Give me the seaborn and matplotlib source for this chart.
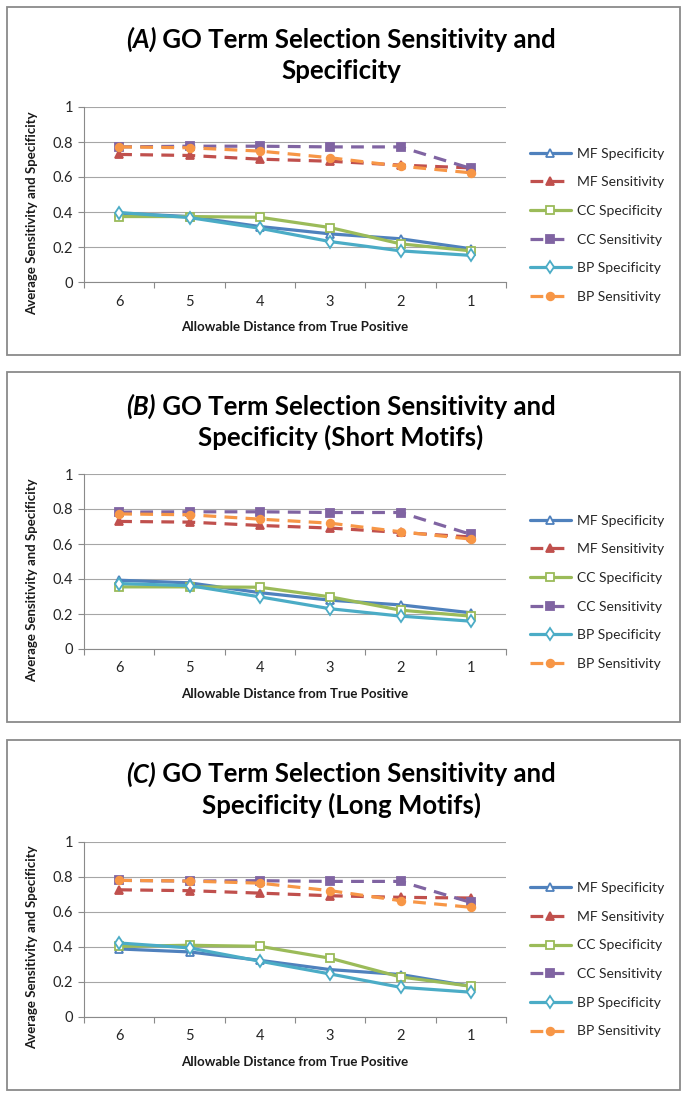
import numpy as np
import pandas as pd
import matplotlib
matplotlib.use("Agg")
import matplotlib.pyplot as plt
import seaborn as sns
from matplotlib.patches import Rectangle
from matplotlib.ticker import FixedLocator

# ---------------- data ----------------
distances = ["6", "5", "4", "3", "2", "1"]
series_names = ["MF Specificity", "MF Sensitivity", "CC Specificity",
                "CC Sensitivity", "BP Specificity", "BP Sensitivity"]

panel_letters = ["(A)", "(B)", "(C)"]
panel_title_l1 = [" GO Term Selection Sensitivity and",
                  " GO Term Selection Sensitivity and",
                  " GO Term Selection Sensitivity and"]
panel_title_l2 = ["Specificity", "Specificity (Short Motifs)", "Specificity (Long Motifs)"]

# Panel A
a_mf_spec = [0.393, 0.374, 0.317, 0.275, 0.247, 0.190]
a_mf_sens = [0.729, 0.723, 0.702, 0.690, 0.668, 0.652]
a_cc_spec = [0.374, 0.374, 0.370, 0.311, 0.218, 0.178]
a_cc_sens = [0.772, 0.776, 0.776, 0.772, 0.772, 0.649]
a_bp_spec = [0.397, 0.368, 0.307, 0.231, 0.178, 0.152]
a_bp_sens = [0.772, 0.767, 0.748, 0.710, 0.662, 0.624]

# Panel B (short motifs)
b_mf_spec = [0.393, 0.378, 0.322, 0.279, 0.252, 0.207]
b_mf_sens = [0.729, 0.725, 0.706, 0.691, 0.666, 0.640]
b_cc_spec = [0.355, 0.355, 0.353, 0.298, 0.222, 0.188]
b_cc_sens = [0.782, 0.784, 0.784, 0.780, 0.780, 0.655]
b_bp_spec = [0.374, 0.362, 0.298, 0.230, 0.188, 0.159]
b_bp_sens = [0.772, 0.767, 0.742, 0.719, 0.670, 0.628]

# Panel C (long motifs)
c_mf_spec = [0.386, 0.369, 0.321, 0.268, 0.240, 0.173]
c_mf_sens = [0.724, 0.719, 0.705, 0.690, 0.681, 0.677]
c_cc_spec = [0.401, 0.407, 0.401, 0.333, 0.226, 0.173]
c_cc_sens = [0.778, 0.774, 0.776, 0.772, 0.772, 0.652]
c_bp_spec = [0.420, 0.392, 0.316, 0.243, 0.167, 0.139]
c_bp_sens = [0.778, 0.774, 0.762, 0.719, 0.662, 0.624]

panels = [
    [a_mf_spec, a_mf_sens, a_cc_spec, a_cc_sens, a_bp_spec, a_bp_sens],
    [b_mf_spec, b_mf_sens, b_cc_spec, b_cc_sens, b_bp_spec, b_bp_sens],
    [c_mf_spec, c_mf_sens, c_cc_spec, c_cc_sens, c_bp_spec, c_bp_sens],
]

# ---------------- style ----------------
colors = ["#4F81BD", "#C0504D", "#9BBB59", "#8064A2", "#4BACC6", "#F79646"]
markers = ["^", "^", "s", "s", "d", "o"]
filled = [False, True, False, True, False, True]
dashed = [False, True, False, True, False, True]

sns.set_theme(style="white")
FONT = ["Lato", "DejaVu Sans"]
plt.rcParams["font.family"] = FONT

W, H = 685, 1098
fig = plt.figure(figsize=(W / 100, H / 100), dpi=100)
fig.patch.set_facecolor("white")


def fx(px):
    return px / W


def fy(py):
    return 1 - py / H


renderer = fig.canvas.get_renderer()
offsets = [0, 367, 734.5]
boxes = [(7, 355), (372, 722), (740, 1090)]

for p, off in enumerate(offsets):
    # frame box
    top, bot = boxes[p]
    fig.patches.append(Rectangle((fx(7), fy(bot)), fx(680) - fx(7), fy(top) - fy(bot),
                                 transform=fig.transFigure, fill=False,
                                 edgecolor="#8a8a8a", linewidth=1.3))

    ax_top, ax_bot = 107 + off, 282 + off
    ax = fig.add_axes([fx(84), fy(ax_bot), fx(506) - fx(84), fy(ax_top) - fy(ax_bot)])

    for i, name in enumerate(series_names):
        sns.lineplot(x=distances, y=panels[p][i], ax=ax, color=colors[i],
                     marker=markers[i], markersize=6 if markers[i] != "o" else 5.5,
                     markerfacecolor=colors[i] if filled[i] else "white",
                     markeredgecolor=colors[i], markeredgewidth=1.3,
                     linewidth=2.3, linestyle=(0, (4.0, 2.6)) if dashed[i] else "-",
                     label=name, sort=False)

    ax.set_xlim(-0.5, 5.5)
    ax.set_ylim(0, 1)
    ax.yaxis.set_major_locator(FixedLocator([0, 0.2, 0.4, 0.6, 0.8, 1.0]))
    ax.set_yticklabels(["0", "0.2", "0.4", "0.6", "0.8", "1"])
    ax.xaxis.set_minor_locator(FixedLocator(np.arange(-0.5, 6.0, 1.0)))
    ax.tick_params(axis="x", which="major", length=0, pad=9, labelsize=10.5, labelcolor="#262626")
    ax.tick_params(axis="x", which="minor", length=4, width=0.8, color="#8a8a8a", direction="out", bottom=True)
    ax.tick_params(axis="y", which="major", length=4, width=0.8, color="#8a8a8a", direction="out",
                   left=True, pad=4, labelsize=10.5, labelcolor="#262626")
    ax.grid(axis="y", color="#a6a6a6", linewidth=0.8)
    ax.grid(axis="x", visible=False)
    for s in ["top", "right"]:
        ax.spines[s].set_visible(False)
    for s in ["left", "bottom"]:
        ax.spines[s].set_color("#8a8a8a")
        ax.spines[s].set_linewidth(0.8)
    ax.set_axisbelow(True)

    ax.set_xlabel("Allowable Distance from True Positive", fontsize=9.5, fontweight="bold",
                  color="#1a1a1a", labelpad=9)
    ax.set_ylabel("Average Sensitivity and Specificity", fontsize=9.5, fontweight="bold",
                  color="#1a1a1a")
    ax.yaxis.set_label_coords((38 - 84) / 422, (282 - 213) / 175)

    handles, labels = ax.get_legend_handles_labels()
    ax.legend(handles, labels, loc="upper left",
              bbox_to_anchor=(fx(524), fy(142 + off)), bbox_transform=fig.transFigure,
              frameon=False, fontsize=10, handlelength=3.0, handletextpad=0.45,
              labelspacing=1.2, borderaxespad=0)

    # title: italic (X) + bold rest, centered
    fs = 18.5
    t1a = fig.text(0, fy(48 + off), panel_letters[p], fontsize=fs, fontweight="bold",
                   fontstyle="italic", ha="left", va="baseline", color="black")
    t1b = fig.text(0, fy(48 + off), panel_title_l1[p], fontsize=fs, fontweight="bold",
                   ha="left", va="baseline", color="black")
    wa = t1a.get_window_extent(renderer).width
    wb = t1b.get_window_extent(renderer).width
    start = 341 - (wa + wb) / 2
    t1a.set_x(fx(start))
    t1b.set_x(fx(start + wa))
    fig.text(fx(341), fy(79 + off), panel_title_l2[p], fontsize=fs, fontweight="bold",
             ha="center", va="baseline", color="black")

fig.savefig("out.png", dpi=100, facecolor="white")
